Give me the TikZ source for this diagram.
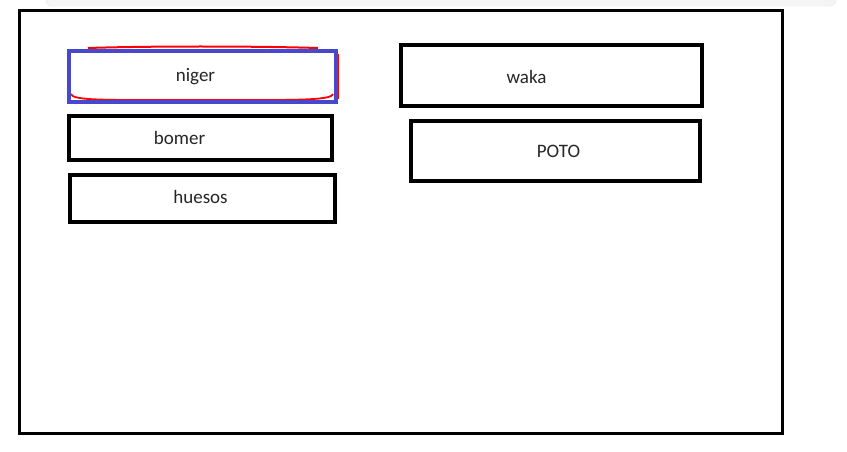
\documentclass[tikz,border=0pt]{standalone}
\usepackage{fontspec}
\setmainfont{Carlito}
\usetikzlibrary{calc}
\definecolor{bleu}{RGB}{72,72,204}
\tikzset{
  caja/.style={draw=black, line width=3.2pt, rectangle, inner sep=0pt},
  texto/.style={font=\fontsize{19}{22}\selectfont, inner sep=0pt, text=black!85}
}
\begin{document}
\begin{tikzpicture}[x=1pt,y=-1pt]
    \useasboundingbox (0,0) rectangle (847,452);
    \fill[white] (0,0) rectangle (847,452);
    % Barre grise en haut
    \fill[black!4, rounded corners=6pt] (46,-12) rectangle (836,6);
    \draw[black!10, rounded corners=6pt] (46,-12) rectangle (836,6);

    % Cadre
    \node[draw=black, line width=3pt, minimum width=763pt, minimum height=422pt, inner sep=0pt] (cadre) at (400.5,222) {};

    % Colonne de gauche
    \node[draw=none, minimum width=267pt, minimum height=51pt, inner sep=0pt] (niger) at (202.5,76.5) {};
    \draw[red, line width=1.8pt] (71,94) .. controls (72,101) and (110,100) .. (200,100) .. controls (290,100) and (331,101) .. (333,94);
    \draw[red, line width=2pt] (88,48) .. controls (150,46) and (250,46) .. (318,48);
    \draw[red, line width=1.5pt] (338,54) -- (338,99);
    \draw[bleu, line width=3.6pt] (niger.south west) rectangle (niger.north east);
    \node[texto] (nigertxt) at ($(niger)+(-7,0)$) {niger};

    \node[caja, minimum width=263pt, minimum height=44pt] (bomer) at (200.5,138) {};
    \node[texto] (bomertxt) at ($(bomer)+(-21,0)$) {bomer};

    \node[caja, minimum width=265pt, minimum height=47pt] (huesos) at (202.5,198.5) {};
    \node[texto] (huesostxt) at ($(huesos)+(-2,-2)$) {huesos};

    % Colonne de droite
    \node[caja, minimum width=301pt, minimum height=61pt] (waka) at (551.5,75.5) {};
    \node[texto] (wakatxt) at ($(waka)+(-25,1)$) {waka};

    \node[caja, minimum width=289pt, minimum height=60pt] (poto) at (555.5,151) {};
    \node[texto] (pototxt) at ($(poto)+(3,0)$) {POTO};
\end{tikzpicture}
\end{document}
